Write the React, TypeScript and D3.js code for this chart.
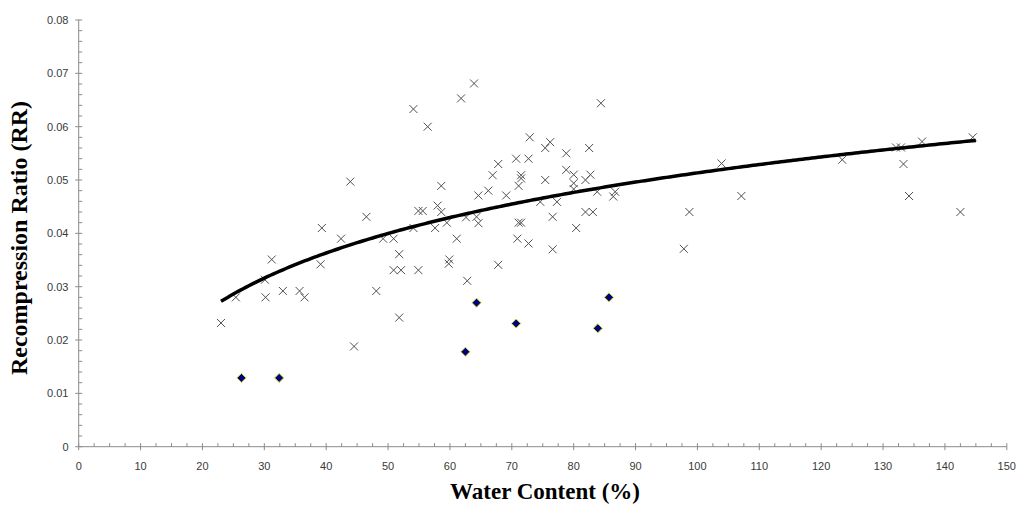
import React from "react";
import * as d3 from "d3";

// Water content (%) and recompression ratio for the "x" series
const crossX = [
  23.0, 25.4, 30.2, 30.1, 31.2, 33.0, 35.7, 36.5, 39.1, 39.3, 42.4, 43.9, 44.5, 46.5, 48.1,
  49.2, 50.9, 51.8, 50.9, 52.1, 51.8, 54.1, 54.9, 55.6, 54.9, 54.1, 56.4, 61.8, 63.9, 84.4,
  72.9, 75.4, 76.2, 78.8, 82.5, 70.7, 72.7, 67.8, 66.9, 71.5, 71.5, 71.1, 75.4, 78.8, 80.0,
  80.0, 80.0, 81.9, 82.7, 58.6, 64.6, 66.2, 69.1, 58.0, 58.6, 59.5, 62.6, 64.3, 64.6, 57.6,
  61.1, 59.9, 59.8, 71.1, 71.5, 70.9, 72.7, 76.6, 76.6, 77.3, 74.6, 80.4, 81.9, 83.1, 83.8,
  86.7, 86.4, 67.8, 62.8, 103.9, 107.1, 98.7, 97.8, 123.4, 132.1, 132.9, 133.3, 134.2, 136.3,
  142.5, 144.5,
];
const crossY = [
  0.0232, 0.028, 0.028, 0.0313, 0.0351, 0.0292, 0.0292, 0.028, 0.0342, 0.041, 0.039, 0.0497, 0.0188, 0.0431, 0.0292,
  0.039, 0.039, 0.0361, 0.0331, 0.0331, 0.0242, 0.041, 0.0442, 0.0442, 0.0331, 0.0633, 0.06, 0.0653, 0.0681, 0.0644,
  0.058, 0.056, 0.0571, 0.055, 0.056, 0.054, 0.054, 0.053, 0.0509, 0.0509, 0.0503, 0.0489, 0.05, 0.0519, 0.051,
  0.0494, 0.0483, 0.05, 0.051, 0.0489, 0.0471, 0.048, 0.0471, 0.0452, 0.044, 0.042, 0.043, 0.0431, 0.0419, 0.041,
  0.039, 0.0351, 0.0343, 0.042, 0.042, 0.039, 0.0381, 0.0431, 0.037, 0.0459, 0.0459, 0.041, 0.044, 0.044, 0.0478,
  0.0478, 0.0469, 0.0341, 0.0311, 0.0531, 0.047, 0.044, 0.0371, 0.0538, 0.0561, 0.0561, 0.053, 0.047, 0.0572,
  0.044, 0.058,
];

// Diamond series
const diamondX = [26.3, 32.4, 62.5, 64.3, 70.7, 83.9, 85.7];
const diamondY = [0.0129, 0.0129, 0.0178, 0.027, 0.0231, 0.0222, 0.028];

// Axis ticks
const xTickValues = [0, 10, 20, 30, 40, 50, 60, 70, 80, 90, 100, 110, 120, 130, 140, 150];
const xTickLabels = ["0", "10", "20", "30", "40", "50", "60", "70", "80", "90", "100", "110", "120", "130", "140", "150"];
const yTickValues = [0, 0.01, 0.02, 0.03, 0.04, 0.05, 0.06, 0.07, 0.08];
const yTickLabels = ["0", "0.01", "0.02", "0.03", "0.04", "0.05", "0.06", "0.07", "0.08"];

// Logarithmic trend line range
const trendRange = [23, 145];

const W = 1018;
const H = 506;
const AXIS = "#8a8a8a";

export default function App() {
  const x = d3.scaleLinear().domain([0, 150]).range([78.7, 1006.8]);
  const y = d3.scaleLinear().domain([0, 0.08]).range([446.7, 20]);

  // least-squares logarithmic fit y = a ln(x) + b of the x series
  const lx = crossX.map((v) => Math.log(v));
  const mx = d3.mean(lx) as number;
  const my = d3.mean(crossY) as number;
  let sxy = 0;
  let sxx = 0;
  lx.forEach((v, i) => {
    sxy += (v - mx) * (crossY[i] - my);
    sxx += (v - mx) * (v - mx);
  });
  const a = sxy / sxx;
  const b = my - a * mx;
  const trendXs = d3.range(trendRange[0], trendRange[1] + 0.001, 0.5);
  const line = d3
    .line<number>()
    .x((d) => x(d))
    .y((d) => y(a * Math.log(d) + b));

  const xMinor = d3.range(0, 150.01, 2.5).filter((v) => Math.abs(v % 10) > 0.01);
  const yMinor = d3.range(0, 0.0801, 0.002).filter((v) => Math.abs(Math.round(v * 1000) % 10) > 0.1);

  const x0 = x(0);
  const y0 = y(0);

  return (
    <div style={{ position: "absolute", left: 0, top: 0 }}>
      <svg width={W} height={H} style={{ display: "block", background: "#fff" }}>
        {/* axes */}
        <line x1={x0} x2={x(150)} y1={y0} y2={y0} stroke={AXIS} strokeWidth={1} />
        <line x1={x0} x2={x0} y1={y(0.08)} y2={y0} stroke={AXIS} strokeWidth={1} />
        {xMinor.map((v) => (
          <line key={"xm" + v} x1={x(v)} x2={x(v)} y1={y0} y2={y0 - 3.5} stroke={AXIS} />
        ))}
        {xTickValues.map((v, i) => (
          <g key={"xt" + v}>
            <line x1={x(v)} x2={x(v)} y1={y0 - 3.5} y2={y0 + 3.5} stroke={AXIS} />
            <text
              x={x(v)}
              y={470}
              textAnchor="middle"
              fontFamily="'Liberation Sans', Arial, sans-serif"
              fontSize={11}
              fill="#3a3a3a"
            >
              {xTickLabels[i]}
            </text>
          </g>
        ))}
        {yMinor.map((v) => (
          <line key={"ym" + v} x1={x0} x2={x0 + 3.5} y1={y(v)} y2={y(v)} stroke={AXIS} />
        ))}
        {yTickValues.map((v, i) => (
          <g key={"yt" + v}>
            <line x1={x0 - 3.5} x2={x0 + 3.5} y1={y(v)} y2={y(v)} stroke={AXIS} />
            <text
              x={68.5}
              y={y(v)}
              dy="0.35em"
              textAnchor="end"
              fontFamily="'Liberation Sans', Arial, sans-serif"
              fontSize={11}
              fill="#3a3a3a"
            >
              {yTickLabels[i]}
            </text>
          </g>
        ))}

        {/* cross markers */}
        {crossX.map((v, i) => {
          const cx = x(v);
          const cy = y(crossY[i]);
          const r = 4;
          return (
            <path
              key={"c" + i}
              d={`M${cx - r},${cy - r}L${cx + r},${cy + r}M${cx - r},${cy + r}L${cx + r},${cy - r}`}
              stroke="#505050"
              strokeWidth={1}
              fill="none"
            />
          );
        })}

        {/* trend line */}
        <path d={line(trendXs) || ""} stroke="#000" strokeWidth={3.5} fill="none" />

        {/* diamond markers */}
        {diamondX.map((v, i) => {
          const cx = x(v);
          const cy = y(diamondY[i]);
          const r = 4.5;
          return (
            <path
              key={"d" + i}
              d={`M${cx},${cy - r}L${cx + r},${cy}L${cx},${cy + r}L${cx - r},${cy}Z`}
              fill="#000080"
              stroke="#c8d820"
              strokeWidth={1}
            />
          );
        })}

        {/* axis titles */}
        <text
          x={545}
          y={499}
          textAnchor="middle"
          fontFamily="'Times New Roman', 'Liberation Serif', serif"
          fontWeight="bold"
          fontSize={23}
          fill="#000"
        >
          Water Content (%)
        </text>
        <text
          transform="translate(27,238) rotate(-90)"
          textAnchor="middle"
          fontFamily="'Times New Roman', 'Liberation Serif', serif"
          fontWeight="bold"
          fontSize={24}
          fill="#000"
        >
          Recompression Ratio (RR)
        </text>
      </svg>
    </div>
  );
}
